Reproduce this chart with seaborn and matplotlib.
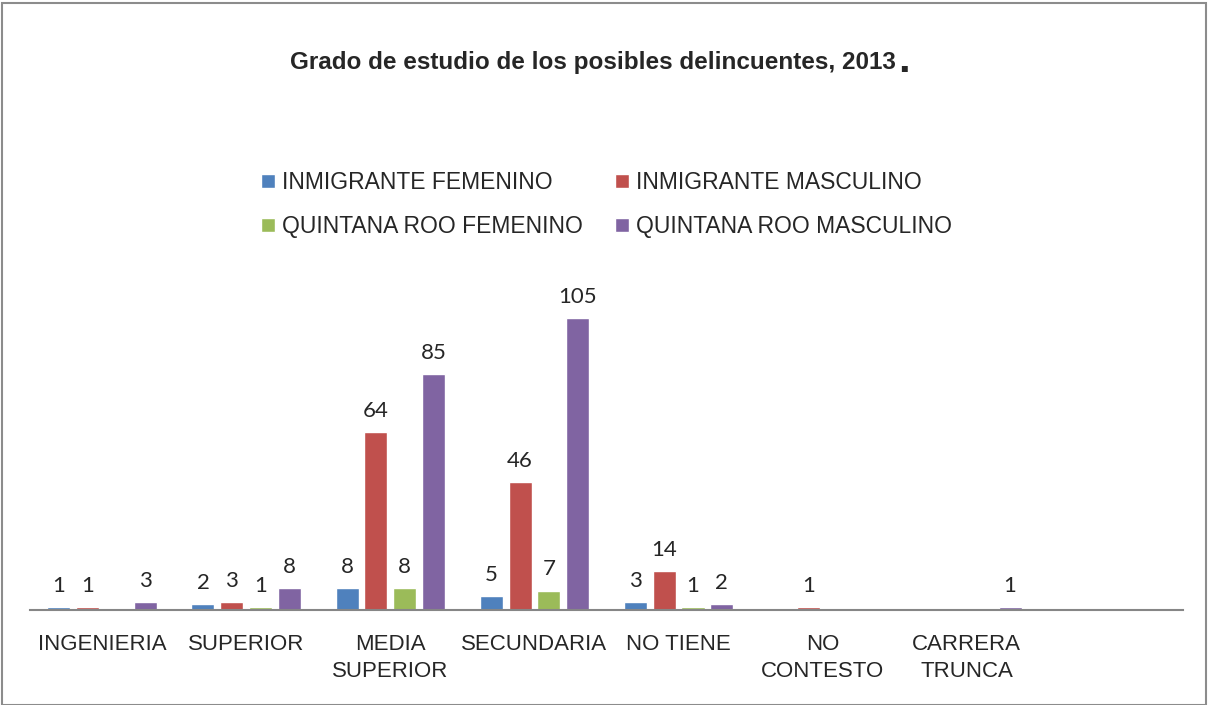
import numpy as np
import pandas as pd
import matplotlib
matplotlib.use("Agg")
import matplotlib.pyplot as plt
import seaborn as sns
from matplotlib.patches import Rectangle

categorias = ['INGENIERIA', 'SUPERIOR', 'MEDIA\nSUPERIOR', 'SECUNDARIA',
              'NO TIENE', 'NO\nCONTESTO', 'CARRERA\nTRUNCA']
series = ['INMIGRANTE FEMENINO', 'INMIGRANTE MASCULINO',
          'QUINTANA ROO FEMENINO', 'QUINTANA ROO MASCULINO']
inm_fem = [1, 2, 8, 5, 3, np.nan, np.nan]
inm_masc = [1, 3, 64, 46, 14, 1, np.nan]
qroo_fem = [np.nan, 1, 8, 7, 1, np.nan, np.nan]
qroo_masc = [3, 8, 85, 105, 2, np.nan, 1]

colores = ['#4F81BD', '#C0504D', '#9BBB59', '#8064A2']

rows = []
for s, vals in zip(series, [inm_fem, inm_masc, qroo_fem, qroo_masc]):
    for c, v in zip(categorias, vals):
        rows.append({'Grado': c, 'Grupo': s, 'Valor': v})
df = pd.DataFrame(rows).dropna()

sns.set_theme(style="white")
fuente = ['Liberation Sans', 'DejaVu Sans']

fig = plt.figure(figsize=(12.1, 7.05), dpi=100)
ax = fig.add_axes([0.0248, 0.1348, 0.9529, 0.4733])

sns.barplot(data=df, x='Grado', y='Valor', hue='Grupo', order=categorias,
            hue_order=series, palette=colores, width=0.8, gap=0.2,
            saturation=1, ax=ax, legend=True)

for cont in ax.containers:
    ax.bar_label(cont, fmt='%g', padding=8, fontsize=16, family=['Lato', 'DejaVu Sans'])

ax.set_xlim(-0.5, 7.5)
ax.set_ylim(0, 120)
ax.set_xlabel('')
ax.set_ylabel('')
ax.set_yticks([])
for side in ['top', 'right', 'left']:
    ax.spines[side].set_visible(False)
ax.spines['bottom'].set_color('#868686')
ax.spines['bottom'].set_linewidth(1.5)
ax.tick_params(axis='x', length=0, pad=17)
for lbl in ax.get_xticklabels():
    lbl.set_fontsize(16)
    lbl.set_family(fuente)
    lbl.set_linespacing(1.4)

# leyenda en filas: IF, IM / QF, QM
h, l = ax.get_legend_handles_labels()
idx = [0, 2, 1, 3]
ax.legend([h[i] for i in idx], [l[i] for i in idx], ncol=2, frameon=False,
          loc='center', bbox_to_anchor=(0.5, 1.215), bbox_transform=ax.transAxes,
          prop={'family': fuente, 'size': 16.5}, handlelength=0.6, handleheight=0.6,
          handletextpad=0.3, columnspacing=1.4, labelspacing=0.9)

fig.text(0.7405, 0.912, 'Grado de estudio de los posibles delincuentes, 2013',
         ha='right', va='center', fontsize=17.5, fontweight='bold', family=fuente)
fig.text(0.7425, 0.913, '.', ha='left', va='center', fontsize=30,
         fontweight='bold', family=fuente)

fig.patches.append(Rectangle((0.002, 0.0), 0.995, 0.996, transform=fig.transFigure,
                             fill=False, edgecolor='#8c8c8c', linewidth=1.5))

fig.savefig('out.png', dpi=100)
